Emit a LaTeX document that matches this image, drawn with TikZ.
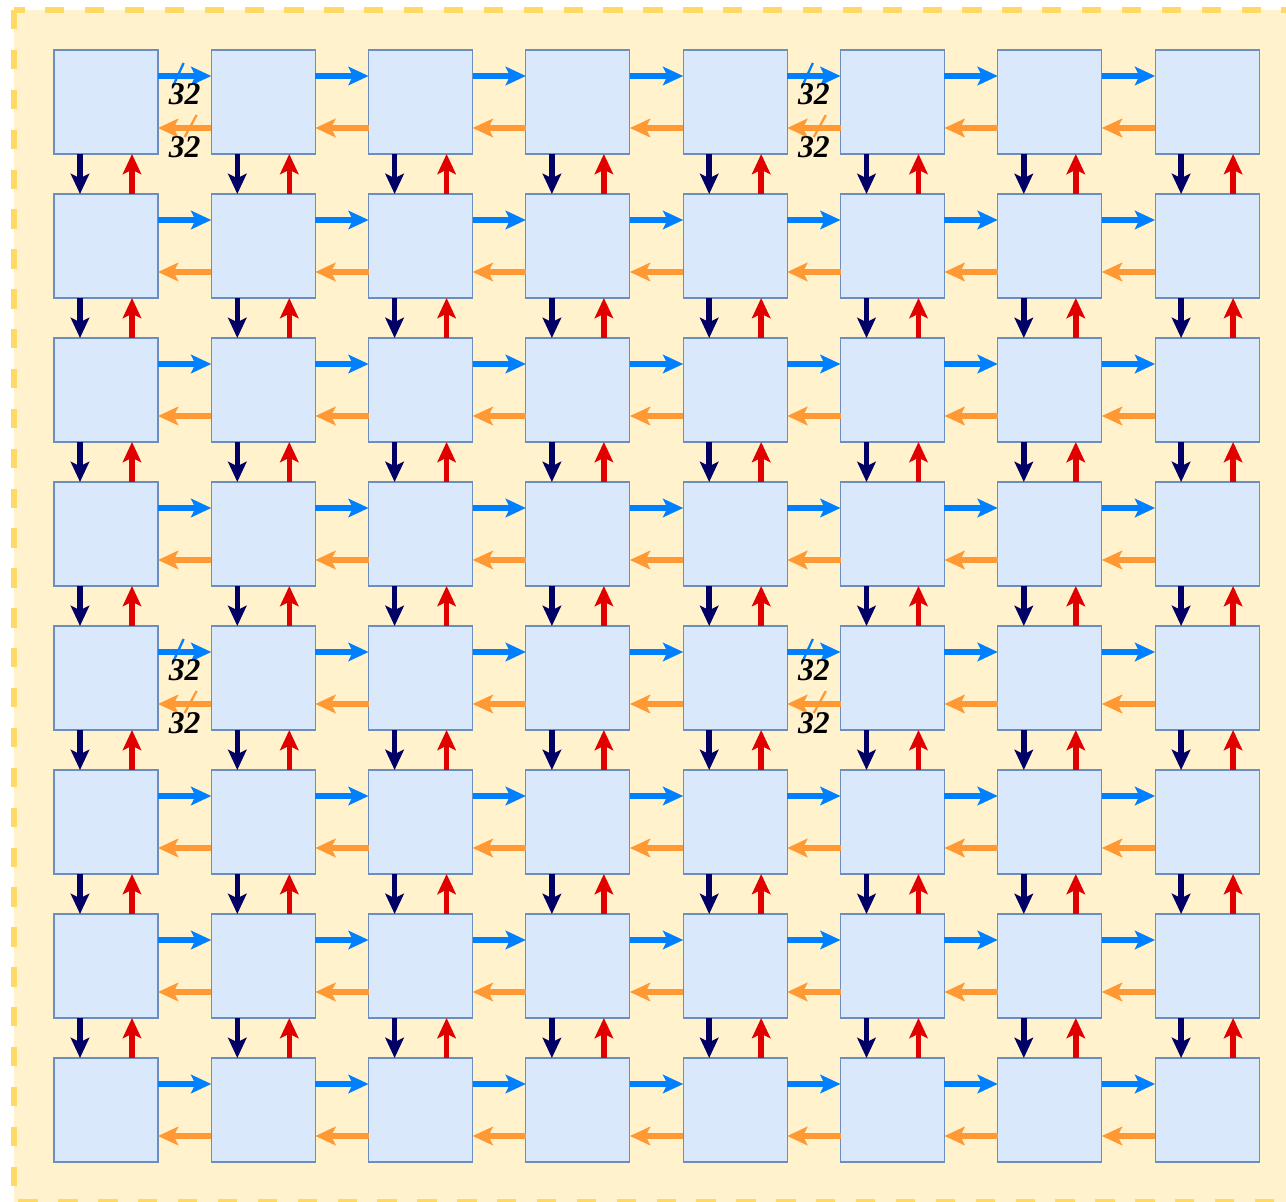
\documentclass[tikz,border=0pt]{standalone}
\usepackage{fontspec}
\setmainfont{Liberation Serif}
\usepackage{tikz}
\usetikzlibrary{arrows.meta,calc}
\definecolor{cellfill}{RGB}{218,232,252}
\definecolor{celldraw}{RGB}{108,142,191}
\definecolor{bgfill}{RGB}{255,242,204}
\definecolor{bgdash}{RGB}{255,217,102}
\definecolor{eastc}{RGB}{0,127,255}
\definecolor{westc}{RGB}{255,153,51}
\definecolor{southc}{RGB}{0,0,102}
\definecolor{northc}{RGB}{225,0,0}

\begin{document}
\begin{tikzpicture}[x=0.02cm,y=-0.02cm,
  cell/.style={draw=celldraw,fill=cellfill,line width=0.6pt,
    minimum width=2.08cm,minimum height=2.08cm,inner sep=0pt,outer sep=0pt},
  link/.style={line width=3.1pt,-{Stealth[length=11.5pt,width=10.5pt,inset=2.5pt]}},
  slash/.style={line width=1.3pt},
  lbl/.style={inner sep=0pt,font=\fontsize{18}{20}\selectfont\bfseries\itshape}]
\useasboundingbox (0,0) rectangle (1286,1202);
\fill[bgfill] (14,10) rectangle (1300,1202);
\draw[bgdash,line width=3.4pt,dash pattern=on 11pt off 11.7pt]
  (14,10) rectangle (1300,1202);
\foreach \r in {0,...,7}
  \foreach \c in {0,...,7}
    \node[cell] (b\r\c) at ({106+157.3*\c},{102+144*\r}) {};
\foreach \r in {0,...,7}
  \foreach \c in {0,...,6} {
    \pgfmathtruncatemacro{\n}{\c+1}
    \draw[link,eastc] ([yshift=0.52cm]b\r\c.east) -- ([yshift=0.52cm]b\r\n.west);
    \draw[link,westc] ([yshift=-0.52cm]b\r\n.west) -- ([yshift=-0.52cm]b\r\c.east);
  }
\foreach \r in {0,...,6}
  \foreach \c in {0,...,7} {
    \pgfmathtruncatemacro{\n}{\r+1}
    \draw[link,southc] ([xshift=-0.52cm]b\r\c.south) -- ([xshift=-0.52cm]b\n\c.north);
    \draw[link,northc] ([xshift=0.52cm]b\n\c.north) -- ([xshift=0.52cm]b\r\c.south);
  }
\foreach \r/\c in {0/0,0/4,4/0,4/4} {
  \pgfmathtruncatemacro{\n}{\c+1}
  \coordinate (m\r\c) at ($(b\r\c.east)!0.5!(b\r\n.west)$);
  \draw[slash,eastc] ([shift={(-12,-15)}]m\r\c) -- ([shift={(-1,-39)}]m\r\c);
  \draw[slash,westc] ([shift={(0,35)}]m\r\c) -- ([shift={(12,13)}]m\r\c);
  \node[lbl] (e\r\c) at ([shift={(0,-8)}]m\r\c) {32};
  \node[lbl] (w\r\c) at ([shift={(0,45)}]m\r\c) {32};
}
\end{tikzpicture}
\end{document}
